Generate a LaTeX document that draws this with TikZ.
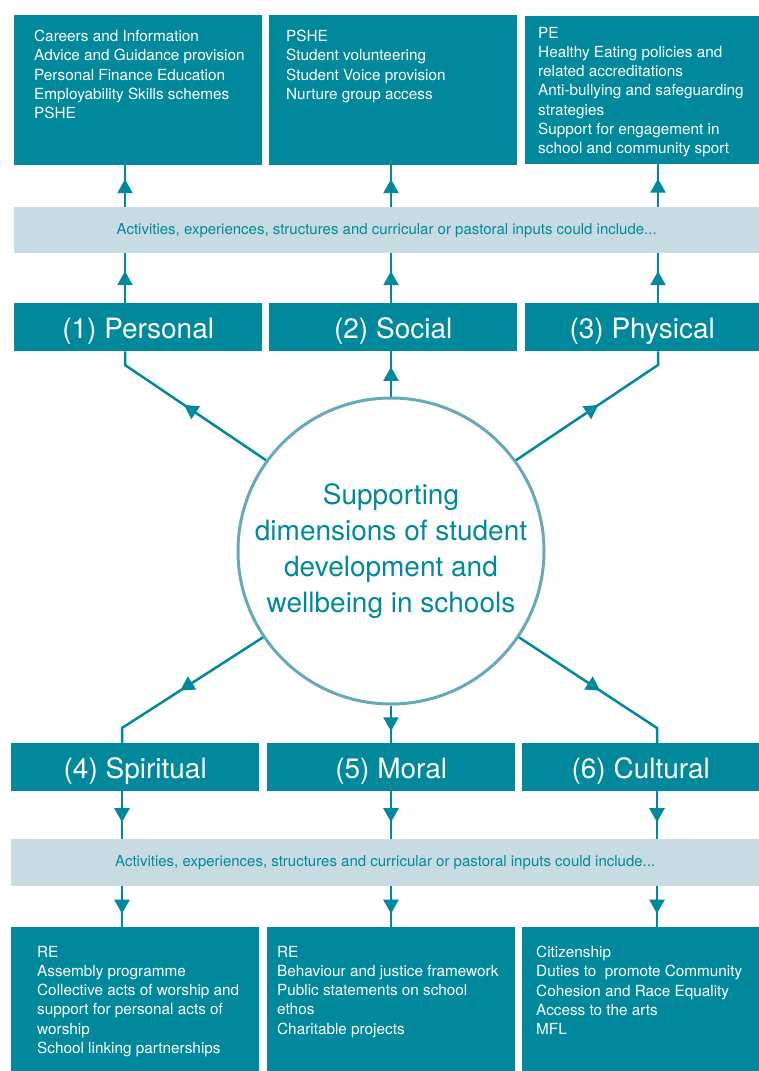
\documentclass[tikz,border=0pt]{standalone}
\usepackage{fontspec}
\setmainfont{TeX Gyre Heros}
\usetikzlibrary{arrows.meta,decorations.markings}
\definecolor{sdteal}{HTML}{00899D}
\definecolor{sdband}{HTML}{C6DCE2}
\definecolor{sdring}{HTML}{66A9B8}
\begin{document}
\begin{tikzpicture}[x=1pt,y=-1pt,
  infobox/.style={fill=sdteal,anchor=north west,inner sep=0pt},
  infotext/.style={text=white,anchor=north west,inner sep=0pt,align=left,font=\fontsize{15.3}{19.2}\selectfont},
  dimbox/.style={fill=sdteal,text=white,anchor=north west,inner sep=0pt,minimum height=48,
    text height=24pt,text depth=2pt,font=\fontsize{28}{32}\selectfont},
  band/.style={fill=sdband,text=sdteal,anchor=north west,inner sep=0pt,minimum height=46,font=\fontsize{15}{18}\selectfont},
  midarrow/.style={draw=sdteal,line width=2.5pt,postaction={decorate},
    decoration={markings,mark=at position 0.5 with {\arrow[xshift=7pt]{Triangle[width=15pt,length=14pt]}}}}]

\useasboundingbox (0,0) rectangle (759,1071);

\node[infobox,minimum width=248,minimum height=150] (i1) at (14,15) {};
\node[infobox,minimum width=248,minimum height=150] (i2) at (269,15) {};
\node[infobox,minimum width=234,minimum height=148] (i3) at (525,16) {};

\node[infotext] (t1) at (34,30) {Careers and Information\\Advice and Guidance provision\\Personal Finance Education\\Employability Skills schemes\\PSHE};
\node[infotext] (t2) at (286,30) {PSHE\\Student volunteering\\Student Voice provision\\Nurture group access};
\node[infotext] (t3) at (538,27) {PE\\Healthy Eating policies and\\related accreditations\\Anti-bullying and safeguarding\\strategies\\Support for engagement in\\school and community sport};

\node[band,minimum width=745] (band1) at (14,207) {Activities, experiences, structures and curricular or pastoral inputs could include...};

\node[dimbox,minimum width=248] (d1) at (14,303) {(1) Personal};
\node[dimbox,minimum width=248] (d2) at (269,303) {(2) Social};
\node[dimbox,minimum width=234] (d3) at (525,303) {(3) Physical};

\node[circle,draw=sdring,line width=3pt,minimum size=306,inner sep=0pt,align=center,text=sdteal,
  font=\fontsize{28}{36}\selectfont] (core) at (391,551) {Supporting\\dimensions of student\\development and\\wellbeing in schools};

\node[dimbox,minimum width=248] (d4) at (11,743) {(4) Spiritual};
\node[dimbox,minimum width=248] (d5) at (267,743) {(5) Moral};
\node[dimbox,minimum width=237] (d6) at (522,743) {(6) Cultural};

\node[band,minimum width=748,minimum height=47] (band2) at (11,839) {Activities, experiences, structures and curricular or pastoral inputs could include...};

\node[infobox,minimum width=248,minimum height=144] (i4) at (11,927) {};
\node[infobox,minimum width=248,minimum height=144] (i5) at (267,927) {};
\node[infobox,minimum width=237,minimum height=144] (i6) at (522,927) {};

\node[infotext] (t4) at (37,946) {RE\\Assembly programme\\Collective acts of worship and\\support for personal acts of\\worship\\School linking partnerships};
\node[infotext] (t5) at (277,946) {RE\\Behaviour and justice framework\\Public statements on school\\ethos\\Charitable projects};
\node[infotext] (t6) at (536,946) {Citizenship\\Duties to\ \ promote Community\\Cohesion and Race Equality\\Access to the arts\\MFL};

\coordinate (b1) at (125,365);
\coordinate (b3) at (658,365);
\coordinate (b4) at (122,728);
\coordinate (b6) at (657,728);

\draw[midarrow] (core.144) -- (b1) -- (b1 |- d1.south);
\draw[midarrow] (core.north) -- (core.north |- d2.south);
\draw[midarrow] (core.36) -- (b3) -- (b3 |- d3.south);
\draw[midarrow] (b1 |- d1.north) -- (b1 |- band1.south);
\draw[midarrow] (core.north |- d2.north) -- (core.north |- band1.south);
\draw[midarrow] (b3 |- d3.north) -- (b3 |- band1.south);
\draw[midarrow] (b1 |- band1.north) -- (b1 |- i1.south);
\draw[midarrow] (core.north |- band1.north) -- (core.north |- i2.south);
\draw[midarrow] (b3 |- band1.north) -- (b3 |- i3.south);

\draw[midarrow] (core.214) -- (b4) -- (b4 |- d4.north);
\draw[midarrow] (core.south) -- (core.south |- d5.north);
\draw[midarrow] (core.326) -- (b6) -- (b6 |- d6.north);
\draw[midarrow] (b4 |- d4.south) -- (b4 |- band2.north);
\draw[midarrow] (core.south |- d5.south) -- (core.south |- band2.north);
\draw[midarrow] (b6 |- d6.south) -- (b6 |- band2.north);
\draw[midarrow] (b4 |- band2.south) -- (b4 |- i4.north);
\draw[midarrow] (core.south |- band2.south) -- (core.south |- i5.north);
\draw[midarrow] (b6 |- band2.south) -- (b6 |- i6.north);
\end{tikzpicture}
\end{document}
